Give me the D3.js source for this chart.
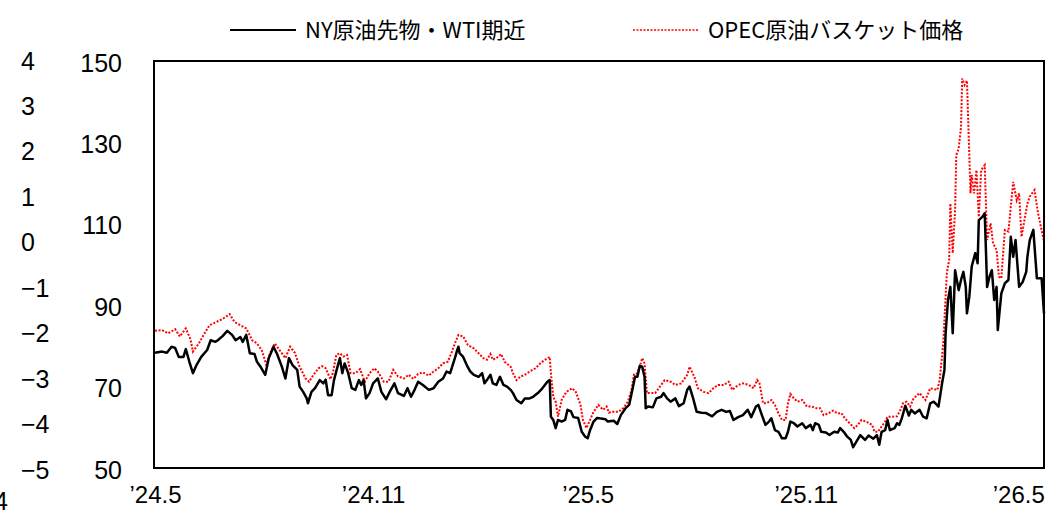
<!DOCTYPE html>
<html>
<head>
<meta charset="utf-8">
<script src="https://cdn.jsdelivr.net/npm/d3@7"></script>
<style>
	body { margin: 0; background: #fff; }
	svg { display: block; font-family: "Liberation Sans", Arial, "Noto Sans CJK JP", sans-serif; }
	.axis text { font-size: 25px; fill: #000; }
	.x.axis text { font-size: 24px; }
	.legend text { font-size: 22px; fill: #000; font-family: "Noto Sans CJK JP", sans-serif; }
</style>
</head>
<body>
<div id="chart"></div>
<script>
// series labels
const seriesNames = ['NY原油先物・WTI期近', 'OPEC原油バスケット価格'];

// NY crude futures (WTI front month), USD/bbl
const wtiDates = [
	'2024-05-01','2024-05-07','2024-05-11','2024-05-15','2024-05-18','2024-05-21','2024-05-25','2024-05-27','2024-05-30',
	'2024-06-02','2024-06-05','2024-06-09','2024-06-14','2024-06-17','2024-06-21','2024-06-23','2024-06-27',
	'2024-07-01','2024-07-05','2024-07-08','2024-07-12','2024-07-14','2024-07-17','2024-07-20','2024-07-24','2024-07-26','2024-07-29',
	'2024-08-02','2024-08-05','2024-08-09','2024-08-12','2024-08-16','2024-08-19','2024-08-22','2024-08-25','2024-08-29','2024-08-31',
	'2024-09-03','2024-09-06','2024-09-07','2024-09-10','2024-09-13','2024-09-17','2024-09-20','2024-09-22','2024-09-24','2024-09-27','2024-09-29',
	'2024-10-02','2024-10-04','2024-10-06','2024-10-08','2024-10-11','2024-10-14','2024-10-17','2024-10-20','2024-10-22','2024-10-24','2024-10-26','2024-10-29',
	'2024-11-01','2024-11-05','2024-11-08','2024-11-12','2024-11-15','2024-11-19','2024-11-22','2024-11-27','2024-11-30',
	'2024-12-03','2024-12-06','2024-12-09','2024-12-13','2024-12-18','2024-12-22','2024-12-26','2024-12-30',
	'2025-01-02','2025-01-05','2025-01-09','2025-01-11','2025-01-12','2025-01-13','2025-01-16','2025-01-19','2025-01-22','2025-01-25','2025-01-29',
	'2025-02-01','2025-02-03','2025-02-05','2025-02-08','2025-02-10','2025-02-13','2025-02-16','2025-02-19','2025-02-22','2025-02-25','2025-02-27',
	'2025-03-02','2025-03-06','2025-03-09','2025-03-13','2025-03-16','2025-03-20','2025-03-23','2025-03-28','2025-03-30','2025-03-31',
	'2025-04-02','2025-04-04','2025-04-06','2025-04-09','2025-04-12','2025-04-14','2025-04-17','2025-04-19','2025-04-23','2025-04-26','2025-04-29',
	'2025-05-01','2025-05-03','2025-05-06','2025-05-09','2025-05-11','2025-05-16','2025-05-18','2025-05-23','2025-05-26','2025-05-29',
	'2025-06-02','2025-06-05','2025-06-08','2025-06-10','2025-06-12','2025-06-14','2025-06-16','2025-06-18','2025-06-19','2025-06-21','2025-06-25','2025-06-28',
	'2025-07-02','2025-07-04','2025-07-07','2025-07-10','2025-07-14','2025-07-17','2025-07-21','2025-07-24','2025-07-26','2025-07-29',
	'2025-08-01','2025-08-05','2025-08-09','2025-08-14','2025-08-18','2025-08-22','2025-08-26','2025-08-29',
	'2025-09-01','2025-09-05','2025-09-09','2025-09-13','2025-09-16','2025-09-20','2025-09-22','2025-09-25','2025-09-28',
	'2025-10-01','2025-10-03','2025-10-06','2025-10-09','2025-10-12','2025-10-15','2025-10-17','2025-10-19','2025-10-22','2025-10-25','2025-10-29',
	'2025-11-01','2025-11-05','2025-11-07','2025-11-09','2025-11-12','2025-11-14','2025-11-18','2025-11-21','2025-11-25','2025-11-28','2025-11-30',
	'2025-12-03','2025-12-06','2025-12-09','2025-12-11','2025-12-13','2025-12-17','2025-12-21','2025-12-24','2025-12-28','2025-12-31',
	'2026-01-02','2026-01-04','2026-01-07','2026-01-09','2026-01-11','2026-01-15','2026-01-17','2026-01-19','2026-01-21','2026-01-24','2026-01-27','2026-01-29',
	'2026-02-01','2026-02-05','2026-02-08','2026-02-11','2026-02-14','2026-02-17','2026-02-21','2026-02-24','2026-02-26','2026-02-27',
	'2026-03-01','2026-03-03','2026-03-05','2026-03-07','2026-03-10','2026-03-12','2026-03-14','2026-03-16','2026-03-17','2026-03-19','2026-03-21','2026-03-24','2026-03-26','2026-03-27','2026-03-30',
	'2026-04-01','2026-04-03','2026-04-05','2026-04-07','2026-04-09','2026-04-11','2026-04-12','2026-04-15','2026-04-18','2026-04-21','2026-04-23','2026-04-25','2026-04-27','2026-04-30',
	'2026-05-03','2026-05-06','2026-05-07','2026-05-09','2026-05-12','2026-05-15','2026-05-19','2026-05-21'
];
const wtiPrices = [
	78.3,78.6,78.3,79.8,79.5,77.3,77.3,79.2,76.1,
	73.3,75.3,77.3,79.0,81.4,81.0,81.4,82.4,
	83.7,82.7,81.4,82.2,81.0,82.7,78.2,78.0,76.1,74.9,
	72.9,77.0,79.8,78.0,74.9,72.0,77.0,75.3,74.1,70.0,
	68.7,67.1,65.9,68.7,69.6,71.6,70.8,71.7,67.9,67.9,71.6,
	74.9,77.0,73.3,75.7,73.3,69.6,69.2,71.6,70.4,71.6,67.1,68.4,
	70.8,72.0,68.7,66.9,68.7,70.8,68.4,67.7,69.6,
	67.5,69.2,71.2,70.4,69.2,69.6,71.2,72.0,
	73.7,73.3,77.0,79.0,79.8,78.2,77.3,75.3,73.7,72.9,72.4,
	73.3,70.8,71.6,72.9,70.8,70.4,72.4,70.4,70.0,69.2,68.4,
	66.7,65.9,67.1,67.1,67.5,68.4,69.3,71.2,71.6,62.6,
	61.8,59.8,61.8,61.4,61.8,64.3,63.9,62.5,62.3,58.9,57.7,
	57.3,59.3,61.4,62.3,62.2,62.0,61.4,61.6,60.8,63.0,
	64.7,65.5,69.6,72.4,72.4,75.1,74.9,72.4,64.7,65.1,64.9,67.1,
	67.5,68.4,67.1,66.3,67.1,65.2,65.9,69.2,70.0,67.1,
	63.8,63.6,63.5,62.7,63.8,64.3,63.8,64.0,
	61.8,62.5,63.0,64.3,62.5,65.1,65.5,63.0,60.6,
	61.4,62.2,59.3,58.9,57.3,57.3,58.9,61.4,61.0,60.2,61.0,
	59.8,60.6,59.3,61.0,60.6,58.9,58.7,58.1,58.9,58.7,59.8,
	58.9,57.7,56.9,55.1,56.1,58.1,56.9,58.0,57.2,58.1,
	55.7,58.9,59.3,61.8,59.3,59.8,61.0,60.6,62.2,65.3,62.9,64.3,
	63.4,64.3,62.6,62.2,65.9,66.3,65.1,70.8,74.1,83.1,
	91.3,94.5,83.1,98.6,93.7,96.2,98.2,94.5,88.0,92.1,99.5,102.8,100.3,110.9,111.7,
	112.6,94.5,97.0,98.6,91.3,94.5,83.9,92.9,95.4,96.2,106.8,101.9,106.0,94.5,
	95.7,98.2,101.9,106.0,108.5,96.6,96.6,88.0
];

// OPEC reference basket, USD/bbl
const opecDates = [
	'2024-05-01','2024-05-07','2024-05-12','2024-05-18','2024-05-22','2024-05-27','2024-05-31',
	'2024-06-02','2024-06-07','2024-06-11','2024-06-16','2024-06-22','2024-06-28',
	'2024-07-03','2024-07-07','2024-07-12','2024-07-17','2024-07-22','2024-07-26','2024-07-30',
	'2024-08-03','2024-08-06','2024-08-10','2024-08-14','2024-08-19','2024-08-23','2024-08-27','2024-08-31',
	'2024-09-05','2024-09-08','2024-09-12','2024-09-16','2024-09-19','2024-09-22','2024-09-26','2024-09-28',
	'2024-10-01','2024-10-04','2024-10-07','2024-10-10','2024-10-13','2024-10-17','2024-10-21','2024-10-25','2024-10-29',
	'2024-11-02','2024-11-05','2024-11-10','2024-11-14','2024-11-18','2024-11-22','2024-11-27',
	'2024-12-01','2024-12-05','2024-12-09','2024-12-13','2024-12-18','2024-12-22','2024-12-26','2024-12-30',
	'2025-01-03','2025-01-06','2025-01-09','2025-01-12','2025-01-16','2025-01-20','2025-01-25','2025-01-29',
	'2025-02-02','2025-02-05','2025-02-08','2025-02-10','2025-02-13','2025-02-17','2025-02-20','2025-02-25','2025-02-27',
	'2025-03-02','2025-03-05','2025-03-09','2025-03-13','2025-03-18','2025-03-22','2025-03-26','2025-03-30','2025-03-31',
	'2025-04-02','2025-04-04','2025-04-06','2025-04-09','2025-04-13','2025-04-18','2025-04-21','2025-04-25','2025-04-27','2025-04-30',
	'2025-05-03','2025-05-06','2025-05-10','2025-05-14','2025-05-17','2025-05-19','2025-05-21','2025-05-27','2025-05-31',
	'2025-06-04','2025-06-07','2025-06-09','2025-06-11','2025-06-14','2025-06-16','2025-06-18','2025-06-20','2025-06-23','2025-06-27',
	'2025-07-01','2025-07-05','2025-07-10','2025-07-14','2025-07-19','2025-07-24','2025-07-26','2025-07-30',
	'2025-08-02','2025-08-07','2025-08-11','2025-08-15','2025-08-19','2025-08-24','2025-08-28','2025-08-31',
	'2025-09-05','2025-09-09','2025-09-14','2025-09-18','2025-09-21','2025-09-23','2025-09-26','2025-09-29',
	'2025-10-03','2025-10-06','2025-10-09','2025-10-12','2025-10-15','2025-10-17','2025-10-19','2025-10-22','2025-10-25','2025-10-29',
	'2025-11-02','2025-11-06','2025-11-10','2025-11-13','2025-11-16','2025-11-20','2025-11-24','2025-11-28',
	'2025-12-01','2025-12-04','2025-12-08','2025-12-12','2025-12-15','2025-12-18','2025-12-22','2025-12-27','2025-12-29',
	'2026-01-01','2026-01-04','2026-01-07','2026-01-09','2026-01-13','2026-01-17','2026-01-20','2026-01-22','2026-01-25','2026-01-28','2026-01-31',
	'2026-02-05','2026-02-10','2026-02-14','2026-02-20','2026-02-22','2026-02-25','2026-02-28',
	'2026-03-02','2026-03-03','2026-03-05','2026-03-07','2026-03-08','2026-03-10','2026-03-12','2026-03-13','2026-03-15','2026-03-17','2026-03-20','2026-03-21','2026-03-23','2026-03-25','2026-03-27','2026-03-29',
	'2026-04-01','2026-04-03','2026-04-06','2026-04-08','2026-04-11','2026-04-13','2026-04-15','2026-04-18','2026-04-21','2026-04-25','2026-04-28','2026-04-30',
	'2026-05-02','2026-05-07','2026-05-09','2026-05-13','2026-05-16','2026-05-21'
];
const opecPrices = [
	83.7,83.9,83.1,84.1,82.3,84.3,81.6,
	78.6,80.6,82.7,85.1,85.9,86.8,
	87.8,85.9,85.1,84.3,81.4,80.6,79.0,
	75.3,78.2,80.6,79.0,77.0,79.8,78.3,74.9,
	72.0,71.2,73.0,74.5,75.0,74.5,71.8,73.3,
	77.8,78.2,77.4,77.8,73.3,73.3,74.3,71.2,73.3,
	74.5,73.7,71.2,71.2,74.1,72.5,72.0,
	72.9,71.9,73.1,73.5,72.7,73.7,74.5,75.7,
	76.1,78.2,80.6,82.7,82.3,80.2,79.4,78.2,
	77.0,76.6,78.0,76.6,77.0,78.0,76.1,74.9,73.3,
	71.6,72.4,72.9,73.7,74.5,75.7,76.6,77.3,73.3,
	67.5,66.3,62.6,66.7,68.7,69.6,68.7,65.5,61.8,59.8,
	61.8,63.8,65.5,64.3,65.1,63.6,63.8,63.8,64.7,
	66.3,69.2,72.9,72.9,74.9,77.0,75.7,68.4,68.4,68.4,
	70.0,71.6,71.2,70.4,70.8,72.9,74.9,72.4,
	69.6,68.7,68.4,69.6,70.4,70.4,71.2,69.2,
	70.4,70.8,70.4,69.6,71.6,70.8,65.9,65.9,
	66.7,65.5,63.4,61.8,61.8,65.9,68.2,67.1,66.3,66.7,
	65.1,65.1,64.7,64.7,63.0,63.4,64.1,63.4,
	63.5,62.2,61.0,59.8,60.6,61.8,61.4,60.6,58.9,
	58.9,60.2,61.4,62.6,62.6,62.7,64.3,65.9,66.3,65.1,67.1,
	68.4,66.7,69.6,69.2,71.6,80.6,97.8,
	101.1,115.0,102.8,113.4,126.9,128.5,133.8,145.7,144.1,145.2,117.5,122.0,117.5,123.2,111.7,123.2,
	124.4,106.0,110.1,105.2,103.6,97.0,96.6,108.5,108.1,120.3,115.8,117.5,
	106.8,115.0,116.7,118.3,112.6,105.6
];

// axis ticks
const priceTicks = [50, 70, 90, 110, 130, 150];
const outerTicks = [-5, -4, -3, -2, -1, 0, 1, 2, 3, 4];
const monthTicks = ['2024-05-01', '2024-11-01', '2025-05-01', '2025-11-01', '2026-05-01'];
const dateExtent = ['2024-05-01', '2026-05-21'];

// dimension stuff
const width = 1046;
const height = 512;
const plotLeft = 154;
const plotRight = 1044;
const plotTop = 61;
const plotBottom = 468;

const parseDate = d3.timeParse('%Y-%m-%d');
const wti = wtiDates.map((d, i) => ({ date: parseDate(d), value: wtiPrices[i] }));
const opec = opecDates.map((d, i) => ({ date: parseDate(d), value: opecPrices[i] }));

// scales
const scaleX = d3.scaleTime()
	.domain(dateExtent.map(parseDate))
	.range([plotLeft + 1, plotRight]);
const scaleY = d3.scaleLinear().domain([50, 150]).range([plotBottom, plotTop]);
const scaleOuter = d3.scaleLinear().domain([-5, 4]).range([plotBottom + 1, plotTop - 1]);

const $svg = d3.select('#chart').append('svg')
	.attr('width', width)
	.attr('height', height);

// outer (unused) axis on the far left, labels left-aligned
const $outer = $svg.append('g').attr('class', 'axis')
	.attr('transform', 'translate(21,0)')
	.call(d3.axisRight(scaleOuter).tickValues(outerTicks).tickSize(0).tickPadding(0));
$outer.select('.domain').remove();
$outer.selectAll('text').attr('dy', '0.36em');

// stray clipped label at the bottom left
$svg.append('text')
	.attr('class', 'axis')
	.attr('x', 8).attr('y', 510)
	.attr('text-anchor', 'end')
	.style('font-size', '25px')
	.text('4');

// price axis
const $yAxis = $svg.append('g').attr('class', 'axis')
	.attr('transform', `translate(${plotLeft},0)`)
	.call(d3.axisLeft(scaleY).tickValues(priceTicks).tickSize(0).tickPadding(32));
$yAxis.select('.domain').remove();
$yAxis.selectAll('text').attr('dy', '0.4em');

// month axis
const $xAxis = $svg.append('g').attr('class', 'x axis')
	.attr('transform', `translate(0,${plotBottom})`)
	.call(d3.axisBottom(scaleX)
		.tickValues(monthTicks.map(parseDate))
		.tickSize(0)
		.tickPadding(18)
		.tickFormat(d => '\u2019' + d3.timeFormat('%y')(d) + '.' + (d.getMonth() + 1)));
$xAxis.select('.domain').remove();
// last label sits against the right edge
$xAxis.selectAll('.tick').filter((d, i) => i === monthTicks.length - 1)
	.select('text').attr('x', -2);

// lines
const line = d3.line()
	.x(d => scaleX(d.date))
	.y(d => scaleY(d.value));

$svg.append('path')
	.datum(opec)
	.attr('d', line)
	.attr('fill', 'none')
	.attr('stroke', '#ff0000')
	.attr('stroke-width', 2)
	.attr('stroke-dasharray', '2,1.6');

$svg.append('path')
	.datum(wti)
	.attr('d', line)
	.attr('fill', 'none')
	.attr('stroke', '#000')
	.attr('stroke-width', 2.5)
	.attr('stroke-linejoin', 'round');

// plot frame
$svg.append('rect')
	.attr('x', plotLeft)
	.attr('y', plotTop)
	.attr('width', plotRight - plotLeft)
	.attr('height', plotBottom - plotTop)
	.attr('fill', 'none')
	.attr('stroke', '#000')
	.attr('stroke-width', 2);

// legend
const legendItems = [
	{ name: seriesNames[0], x: 230, color: '#000', dash: null, w: 1.8 },
	{ name: seriesNames[1], x: 633, color: '#ff0000', dash: '2,1.5', w: 1.6 }
];
const $legend = $svg.append('g').attr('class', 'legend');
const $item = $legend.selectAll('g').data(legendItems).enter().append('g')
	.attr('transform', d => `translate(${d.x},30)`);
$item.append('line')
	.attr('x1', 0).attr('x2', 66)
	.attr('stroke', d => d.color)
	.attr('stroke-width', d => d.w)
	.attr('stroke-dasharray', d => d.dash);
$item.append('text')
	.attr('x', 75)
	.attr('dy', '0.36em')
	.text(d => d.name);
</script>
</body>
</html>
